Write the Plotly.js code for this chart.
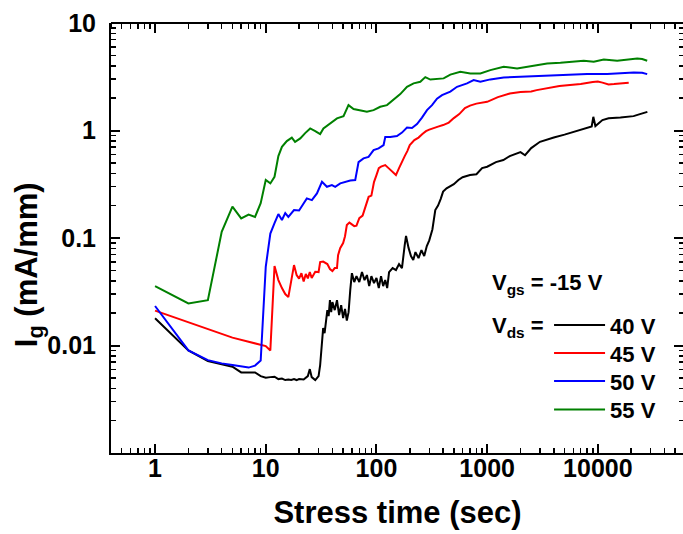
<!DOCTYPE html>
<html>
<head>
<meta charset="utf-8">
<script src="https://cdn.plot.ly/plotly-3.0.1.min.js"></script>
<style>
html,body{margin:0;padding:0;overflow:hidden;background:#fff;}
#chart{width:687px;height:534px;}
</style>
</head>
<body>
<div id="chart"></div>
<script>
// Stress time (sec) and gate current Ig (mA/mm)
var t40 = [1,2,3,4,5,6,7,8,9,10,11,12,13,14,15,16,17,18,19,20,22,24,25,26,28,30,31,32,33,34,35,36,37,38,39,40,42,44,46,48,50,52,54,56,58,60,63,66,70,74,78,82,86,90,95,100,105,110,115,120,125,130,140,150,160,170,180,185,195,205,215,225,240,255,270,285,300,320,340,360,380,400,430,460,500,550,600,700,800,900,1000,1200,1400,1600,1800,2000,2200,2500,3000,3500,4000,5000,6000,7000,8000,8800,9100,9500,11000,12500,16000,21000,24000,28000];
var i40 = [0.0179,0.0090,0.00716,0.00671,0.00634,0.00562,0.00562,0.00562,0.00519,0.00501,0.00508,0.00512,0.00487,0.00493,0.00477,0.00482,0.00477,0.00487,0.00477,0.00487,0.00482,0.00519,0.00603,0.00508,0.00477,0.00519,0.00657,0.01122,0.01452,0.01304,0.01799,0.02134,0.01875,0.02644,0.02042,0.02535,0.02134,0.02644,0.01919,0.02377,0.01799,0.02193,0.01702,0.02042,0.0329,0.0471,0.0389,0.0442,0.0389,0.0482,0.0406,0.0452,0.0357,0.0442,0.0381,0.0424,0.0342,0.0442,0.0357,0.0406,0.0342,0.0482,0.0525,0.0503,0.0572,0.0525,0.0859,0.1046,0.0809,0.0679,0.0623,0.0739,0.0650,0.0772,0.0679,0.0841,0.095,0.120,0.182,0.200,0.230,0.270,0.290,0.304,0.317,0.346,0.368,0.385,0.392,0.447,0.460,0.508,0.531,0.578,0.603,0.630,0.589,0.686,0.785,0.830,0.860,0.915,0.966,1.01,1.05,1.09,1.34,1.10,1.25,1.30,1.32,1.36,1.42,1.49];

var t45 = [1,5,10,11,12,13,14,15,16,17,18,19,20,21,22,23,24,25,26,28,30,31,33,36,38,40,42,44,45,47,50,52,54,57,60,63,66,70,75,80,85,90,95,100,105,110,120,130,140,150,160,170,180,190,200,220,240,260,280,300,330,360,400,450,500,560,630,700,800,900,1000,1250,1600,2000,2500,2800,3600,4500,5600,7000,9000,10000,11000,12500,14000,16000,19000];
var i45 = [0.0211,0.01184,0.00987,0.00897,0.0548,0.0406,0.0342,0.0301,0.0282,0.0406,0.0560,0.0452,0.0419,0.0471,0.0393,0.0462,0.0421,0.0482,0.0424,0.0485,0.0482,0.0597,0.0603,0.0572,0.0514,0.0492,0.0525,0.0525,0.0693,0.0805,0.0897,0.104,0.1318,0.139,0.1346,0.129,0.1304,0.1532,0.1616,0.2023,0.2416,0.248,0.3311,0.3847,0.4469,0.4615,0.4766,0.442,0.410,0.3847,0.4469,0.519,0.578,0.643,0.732,0.814,0.859,0.926,0.987,1.019,1.046,1.087,1.123,1.184,1.304,1.421,1.616,1.704,1.779,1.818,1.849,2.045,2.204,2.276,2.301,2.375,2.506,2.588,2.644,2.702,2.819,2.850,2.790,2.685,2.702,2.743,2.778];

var t50 = [1,2,3,4,5,6,7,8,9,10,11,12,13,14,15,16,17,18,20,22,23.5,26.1,29.0,32.2,35.7,39.6,42.4,47.1,52.2,58.0,64.3,68.9,76.4,84.8,94.2,104.5,116,120.1,133.3,153.2,170.1,188.7,209.4,232.4,257.8,286.2,317.6,352.4,391.1,464.8,534.4,658,755,868,1069,1410,1996,2827,3994,5653,8004,12140,16010,21120,25150,27910];
var i50 = [0.0233,0.0090,0.00731,0.00682,0.00657,0.00634,0.00623,0.0065,0.00724,0.054,0.110,0.1376,0.167,0.147,0.1705,0.157,0.169,0.182,0.180,0.211,0.2335,0.2252,0.260,0.333,0.2995,0.3105,0.2995,0.322,0.333,0.342,0.3457,0.508,0.550,0.569,0.657,0.682,0.732,0.868,0.868,0.887,0.956,1.064,1.053,1.147,1.318,1.548,1.723,1.98,2.135,2.301,2.550,2.743,2.943,2.838,2.988,3.119,3.160,3.207,3.277,3.325,3.347,3.347,3.398,3.471,3.441,3.347];

var t55 = [1,2,3,4,5,6,7,8,9,10,11,12,13,14,15.5,17.2,18.4,20.5,22.7,25.2,28.0,31.0,33.2,38.2,44.0,50.4,55.9,62.1,71.4,82.0,94.2,108.2,124.5,142.8,164.1,188.7,216.5,248.9,276.2,306.5,352.4,404.3,464.8,572.3,704.7,868,1069,1410,1864,2295,2827,3480,4590,6055,7458,9183,11310,14950,18410,22670,25150,27910];
var i55 = [0.0357,0.0246,0.0264,0.114,0.196,0.152,0.165,0.157,0.211,0.346,0.322,0.371,0.578,0.705,0.797,0.859,0.785,0.844,0.946,1.046,0.987,0.926,1.046,1.172,1.296,1.361,1.723,1.582,1.548,1.493,1.548,1.662,1.723,1.918,2.182,2.550,2.743,2.838,3.139,2.975,3.008,3.053,3.311,3.516,3.397,3.397,3.646,3.913,3.782,3.913,4.058,4.209,4.264,4.355,4.450,4.355,4.585,4.450,4.585,4.685,4.615,4.450];

var seriesNames = ['40 V','45 V','50 V','55 V'];
var seriesColors = ['#000000','#ff0000','#0000ff','#008000'];
var xTickVals = [1,10,100,1000,10000];
var xTickText = ['1','10','100','1000','10000'];
var yTickVals = [0.01,0.1,1,10];
var yTickText = ['0.01','0.1','1','10'];

var xMinor = [], yMinor = [];
[0.1,1,10,100,1000,10000].forEach(function(d){ for (var k=2;k<=9;k++){ var v=k*d; if (v>=0.4 && v<=60000) xMinor.push(v);} });
[0.001,0.01,0.1,1].forEach(function(d){ for (var k=2;k<=9;k++){ yMinor.push(k*d);} });

var XR = [Math.log10(0.4), Math.log10(60000)], YR = [-3, 1];
var FONT = 'Liberation Sans, Arial, sans-serif';

var xs=[t40,t45,t50,t55], ys=[i40,i45,i50,i55];
var legendIds = ['legend','legend2','legend3','legend4'];
var data = xs.map(function(x,i){
  return {x:x, y:ys[i], type:'scatter', mode:'lines', name:seriesNames[i], legend:legendIds[i],
          line:{color:seriesColors[i], width:2}};
});
// empty carriers for the frame / minor-tick axes (draw nothing)
['2','3','4'].forEach(function(n){
  data.push({x:[1], y:[0.01], xaxis:'x'+n, yaxis:'y'+n, type:'scatter', mode:'lines',
             showlegend:false, hoverinfo:'skip', line:{width:0}});
});

function ax(extra){
  return Object.assign({
    type:'log', showgrid:false, zeroline:false, fixedrange:true,
    showline:false, linecolor:'#000', linewidth:2,
    ticks:'inside', ticklen:9, tickwidth:2, tickcolor:'#000',
    tickmode:'array', showticklabels:false
  }, extra);
}
var tickFont = {family:FONT, size:25, color:'#000', weight:'bold'};

function legendAt(yc){
  return {x:0.7645, xanchor:'left', y:yc, yanchor:'top', bgcolor:'rgba(0,0,0,0)', itemwidth:51,
          font:{family:FONT, size:22, color:'#000', weight:'bold'}};
}

var layout = {
  width:687, height:534,
  margin:{l:111, r:3, t:23, b:81},
  paper_bgcolor:'#fff', plot_bgcolor:'#fff',
  showlegend:true,
  // bottom / left: major ticks with labels
  xaxis: ax({range:XR, side:'bottom', showline:true, tickvals:xTickVals, ticktext:xTickText,
    showticklabels:true, tickfont:tickFont, ticklabelstandoff:-8,
    title:{text:'Stress time (sec)', font:{family:FONT, size:31, color:'#000', weight:'bold'}, standoff:20}}),
  yaxis: ax({range:YR, side:'left', showline:true, tickvals:yTickVals, ticktext:yTickText,
    showticklabels:true, tickfont:tickFont, ticklabelstandoff:8}),
  // top / right frame with major ticks pointing into the plot
  xaxis2: ax({range:XR, overlaying:'x', side:'bottom', anchor:'free', position:1, showline:true,
    ticks:'outside', tickvals:xTickVals}),
  yaxis2: ax({range:YR, overlaying:'y', side:'left', anchor:'free', position:1, showline:true,
    ticks:'outside', tickvals:yTickVals}),
  // minor ticks, bottom / left
  xaxis3: ax({range:XR, overlaying:'x', side:'bottom', anchor:'y3', tickvals:xMinor, ticklen:5, tickwidth:1.5}),
  yaxis3: ax({range:YR, overlaying:'y', side:'left', anchor:'x3', tickvals:yMinor, ticklen:5, tickwidth:1.5}),
  // minor ticks, top / right
  xaxis4: ax({range:XR, overlaying:'x', side:'bottom', anchor:'free', position:1, ticks:'outside',
    tickvals:xMinor, ticklen:5, tickwidth:1.5}),
  yaxis4: ax({range:YR, overlaying:'y', side:'left', anchor:'free', position:1, ticks:'outside',
    tickvals:yMinor, ticklen:5, tickwidth:1.5}),
  legend: legendAt(0.3458),
  legend2: legendAt(0.2807),
  legend3: legendAt(0.2156),
  legend4: legendAt(0.1495),
  annotations:[
    {xref:'paper', yref:'paper', x:-0.143, y:0.437, xanchor:'center', yanchor:'middle', textangle:-90,
     showarrow:false, text:'I<sub>g</sub> (mA/mm)', font:{family:FONT, size:31, color:'#000', weight:'bold'}},
    {xref:'paper', yref:'paper', x:0.662, y:0.394, xanchor:'left', yanchor:'middle',
     showarrow:false, text:'V<sub>gs</sub> = -15 V', font:{family:FONT, size:22, color:'#000', weight:'bold'}},
    {xref:'paper', yref:'paper', x:0.662, y:0.294, xanchor:'left', yanchor:'middle',
     showarrow:false, text:'V<sub>ds</sub> =', font:{family:FONT, size:22, color:'#000', weight:'bold'}}
  ]
};

Plotly.newPlot('chart', data, layout, {displayModeBar:false, staticPlot:true});
</script>
</body>
</html>
